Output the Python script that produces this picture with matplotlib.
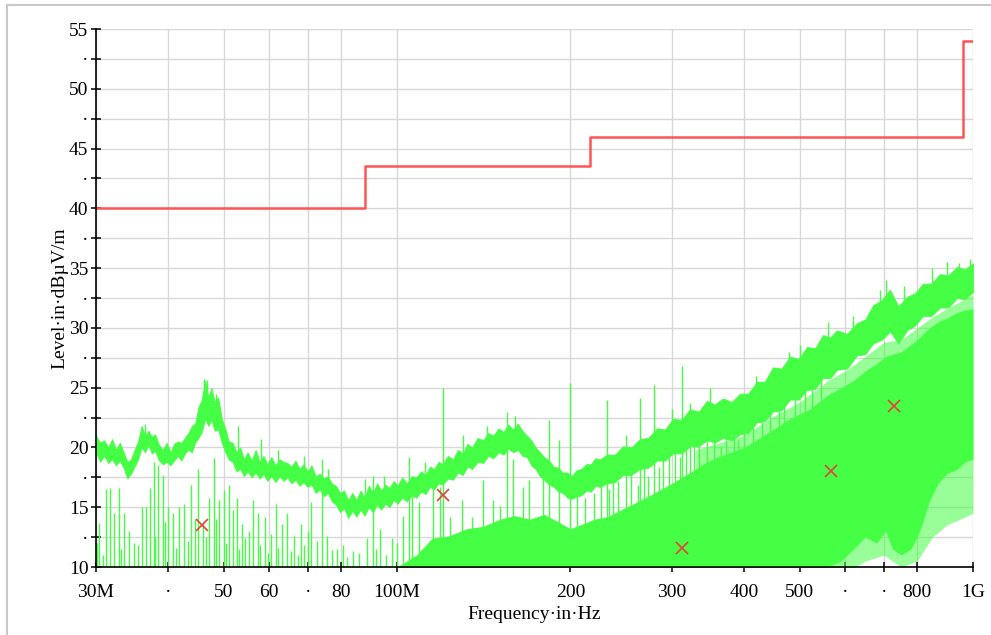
import matplotlib
matplotlib.use('Agg')
import matplotlib.pyplot as plt
from matplotlib.lines import Line2D

plt.rcParams['font.family'] = ['Liberation Serif', 'DejaVu Serif']

GREEN = '#44ff44'
RED = '#ff5555'

# limit line (steps), MHz / dBuV/m
limit_f = [30, 88, 216, 960, 1000]
limit_lvl = [40, 43.5, 46, 54, 54]

# final measurement markers
mark_f = [45.8, 120.1, 312.3, 566.9, 729.0]
mark_lvl = [13.5, 16.0, 11.6, 18.0, 23.5]

# upper (peak) trace band, lower / upper edge
pk_f = [30, 30.5, 31, 31.5, 32, 32.5, 33, 33.5, 34, 34.5, 35, 35.5, 36, 36.5, 37, 37.5,
        38, 38.6, 39.2, 39.8, 40.4, 41, 41.6, 42.2, 42.8, 43.4, 44, 44.6, 45.2, 45.8,
        46.4, 47, 47.6, 48.2, 48.9, 49.6, 50.3, 51, 51.8, 52.6, 53.4, 54.2, 55, 55.9,
        56.8, 57.7, 58.6, 59.5, 60.5, 61.5, 62.5, 63.5, 64.5, 65.5, 66.6, 67.7, 68.8,
        69.9, 71, 72.2, 73.4, 74.6, 75.8, 77, 78.3, 79.6, 80.9, 82.2, 83.6, 85, 86.4,
        87.8, 89.3, 90.8, 92.3, 93.8, 95.4, 97, 98.6, 100.2, 102, 104, 106, 108, 110,
        112, 114, 116, 118, 120, 122.5, 125, 127.5, 130, 132.5, 135, 138, 141, 144, 147,
        150, 153, 156, 159, 162, 165, 168, 171, 174, 177, 180, 183.5, 187, 190.5, 194,
        197.5, 201, 205, 209, 213, 217, 221, 225, 231.4, 239.0, 246.7, 255.0, 264.1,
        273.0, 282.7, 292.0, 301.3, 312.0, 322.5, 334.0, 345.2, 356.0, 368.0, 381.0,
        393.9, 407.0, 421.6, 435.0, 449.4, 465.0, 481.0, 498.0, 514.9, 532.0, 548.9,
        565.0, 580.5, 604.0, 628.8, 650.0, 670.6, 694.0, 717.7, 742.0, 768.1, 793.0,
        818.8, 847.0, 876.4, 906.0, 937.9, 968.0, 1000]
pk_lo = [19.6, 18.8, 19.3, 18.7, 19.0, 18.5, 18.9, 18.3, 17.4, 17.8, 18.4, 19.0, 20.0, 19.6,
         20.2, 19.5, 19.7, 18.9, 18.6, 18.8, 18.5, 18.9, 19.3, 18.9, 19.5, 19.8, 19.6, 20.4,
         20.8, 21.3, 22.4, 21.8, 22.3, 21.4, 21.5, 20.4, 19.6, 19.0, 18.8, 18.0, 18.2, 17.6,
         18.0, 17.5, 17.9, 17.4, 17.8, 17.2, 17.6, 17.1, 17.6, 17.2, 17.5, 17.0, 17.3, 16.8,
         17.1, 16.7, 16.9, 16.2, 16.5, 15.9, 16.2, 15.5, 15.2, 14.6, 14.9, 14.1, 14.7, 14.2,
         14.8, 14.3, 15.0, 14.6, 15.2, 14.8, 15.3, 15.0, 15.6, 15.3, 15.8, 15.5, 16.0, 15.8,
         16.3, 16.1, 16.7, 16.5, 17.0, 16.9, 17.4, 17.3, 17.9, 17.7, 18.4, 18.2, 18.8, 18.7,
         19.3, 19.1, 19.6, 19.4, 19.9, 19.6, 19.8, 19.3, 19.2, 18.5, 18.2, 17.6, 17.3, 16.9,
         16.7, 16.3, 16.2, 15.8, 15.7, 15.9, 16.0, 16.4, 16.3, 16.8, 16.7, 17.0, 17.1, 17.7,
         17.7, 18.2, 18.3, 18.9, 18.9, 19.5, 19.5, 20.1, 20.1, 20.6, 20.4, 20.8, 20.6, 21.1,
         21.2, 22.1, 22.2, 23.0, 23.1, 24.0, 24.0, 24.8, 24.9, 25.8, 25.8, 26.5, 26.6, 27.7,
         27.8, 28.7, 29.0, 29.7, 28.7, 29.8, 30.2, 31.0, 31.0, 31.7, 31.7, 32.5, 32.4, 33.0]
pk_hi = [21.0, 20.4, 20.6, 20.0, 20.7, 19.8, 20.4, 19.6, 18.8, 19.0, 19.8, 20.5, 21.8, 21.0,
         21.4, 20.9, 21.1, 20.2, 19.8, 20.4, 19.6, 20.3, 20.5, 20.4, 20.8, 21.2, 21.8, 22.0,
         23.4, 24.0, 25.6, 24.2, 25.0, 23.8, 24.2, 22.4, 21.6, 20.5, 20.4, 19.6, 20.0, 19.0,
         19.6, 18.9, 19.8, 18.8, 19.3, 18.6, 19.2, 18.5, 19.0, 18.8, 18.7, 18.4, 18.9, 18.2,
         18.6, 18.0, 18.5, 17.6, 17.8, 17.4, 17.6, 17.0, 16.8, 16.2, 16.4, 15.6, 16.2, 15.6,
         16.4, 15.8, 16.8, 16.2, 17.0, 16.4, 16.9, 16.6, 17.2, 16.8, 17.5, 17.0, 17.6, 17.5,
         18.0, 17.7, 18.4, 18.2, 18.8, 18.6, 19.3, 19.0, 19.8, 19.5, 20.3, 20.0, 20.8, 20.6,
         21.2, 21.0, 21.6, 21.3, 21.9, 21.5, 22.0, 21.4, 21.0, 20.6, 20.0, 19.6, 19.2, 18.9,
         18.4, 18.3, 17.9, 17.9, 17.6, 18.1, 18.2, 18.6, 18.6, 19.1, 19.0, 19.4, 19.4, 20.1,
         20.0, 20.7, 20.8, 21.6, 21.5, 22.4, 22.3, 23.2, 23.0, 23.9, 23.6, 24.1, 23.8, 24.5,
         24.5, 25.5, 25.5, 26.7, 26.6, 27.6, 27.4, 28.4, 28.3, 29.4, 29.2, 29.8, 29.5, 30.4,
         30.7, 31.9, 32.3, 33.2, 31.8, 32.6, 32.9, 33.7, 33.7, 34.5, 34.4, 35.1, 34.9, 35.4]

# spikes sticking out of the peak band: freq, bottom, top
pks_f = [36.5, 46.2, 46.8, 48.5, 53.0, 58.0, 62.0, 69.0, 76.0, 88.0, 95.0, 112.0, 130.0,
         143.0, 160.0, 250.0, 300.0, 350.0, 420.0, 480.0, 500.0, 560.0, 620.0, 690.0,
         705.0, 760.0, 850.0, 900.0, 945.0, 990.0]
pks_bot = [20.5, 23.0, 23.0, 22.5, 19.5, 18.8, 18.2, 17.8, 16.8, 15.8, 16.2, 17.5, 19.5,
           20.5, 21.0, 19.5, 21.5, 22.8, 24.5, 26.5, 27.0, 28.5, 29.5, 31.5,
           32.0, 31.5, 33.0, 34.0, 34.4, 34.8]
pks_top = [22.0, 25.7, 25.6, 24.5, 21.8, 20.7, 19.8, 19.3, 18.2, 17.4, 17.6, 18.8, 21.0,
           21.8, 22.6, 21.0, 23.2, 25.0, 26.0, 28.0, 28.6, 30.5, 31.0, 33.2,
           34.0, 33.5, 35.0, 35.5, 35.4, 35.8]

# spikes of the lower trace (rise from the floor)
low_f = [30.1, 30.4, 30.8, 31.2, 31.7, 32.2, 32.9, 33.2, 33.6, 34.2, 34.9, 35.5, 36.0, 36.7,
         37.2, 37.9, 38.0, 38.5, 39.2, 39.6, 40.0, 40.8, 41.3, 41.8, 42.7, 43.3, 43.9, 44.5,
         45.1, 46.0, 46.5, 47.1, 48.0, 48.5, 49.0, 50.0, 50.5, 51.0, 51.8, 52.8, 53.2, 53.8,
         54.5, 55.2, 56.2, 57.3, 57.8, 58.9, 59.7, 60.5, 61.7, 62.2, 63.0, 64.5, 65.4, 66.3,
         67.2, 68.1, 69.0, 70.0, 71.0, 72.5, 74.0, 75.5, 77.0, 78.6, 80.5, 82.0, 83.7, 86.0,
         88.7, 90.8, 92.0, 93.3, 95.5, 97.9, 100.0, 102.2, 104.9, 106.2, 109.3, 115.4,
         118.5, 123.5, 129.5, 134.8, 141.0, 146.5, 150.9, 159.0, 165.4, 169.7, 179.0,
         191.0, 205.0, 212.0, 220.0, 226.0, 233.0, 237.0, 242.0, 250.0, 255.0, 262.0,
         268.0, 273.0, 285.0, 290.0, 296.0, 304.0, 310.0, 318.0, 328.0, 335.0, 345.0,
         355.0, 365.0, 372.0, 385.0, 390.0, 400.0, 415.0, 430.0, 445.0, 460.0, 470.0,
         490.0, 510.0, 525.0, 545.0]
low_top = [12.0, 13.7, 11.0, 16.5, 16.6, 14.5, 16.6, 11.5, 14.5, 13.0, 12.0, 11.8, 15.0, 15.0,
           16.6, 18.8, 12.5, 18.5, 17.7, 13.8, 15.0, 14.5, 11.6, 15.0, 15.3, 12.2, 16.9, 14.0,
           18.2, 13.6, 12.5, 15.8, 19.1, 14.0, 15.6, 16.4, 12.0, 16.9, 14.8, 15.8, 11.5, 13.6,
           12.4, 13.0, 15.6, 14.5, 11.8, 14.2, 11.2, 12.8, 15.3, 11.6, 13.6, 14.5, 11.3, 12.6,
           11.0, 13.6, 11.8, 13.0, 15.4, 12.2, 19.0, 12.6, 11.4, 11.5, 11.8, 10.8, 11.3, 11.2,
           12.4, 17.6, 11.5, 13.2, 11.0, 12.4, 12.0, 14.3, 19.2, 15.9, 15.4, 17.2,
           16.7, 14.2, 15.6, 14.2, 17.3, 15.6, 15.1, 19.0, 16.7, 17.3, 18.4,
           20.6, 17.0, 15.8, 16.2, 18.0, 16.5, 18.4, 17.2, 19.5, 18.8, 16.9,
           19.6, 17.6, 18.4, 20.1, 21.0, 19.5, 19.2, 20.8, 21.6, 21.4, 20.5,
           22.0, 20.1, 21.8, 22.6, 20.6, 22.4, 23.5, 23.2, 24.0, 24.8, 23.6,
           25.6, 26.0, 25.4, 27.0]

# tall isolated spikes
tall_f = [120.1, 155.0, 183.3, 199.6, 231.5, 264.0, 279.0, 312.7, 322.5]
tall_top = [25.0, 23.0, 22.3, 25.4, 24.0, 24.1, 25.2, 26.8, 23.7]

# dense part of the lower trace: solid region
fill_f = [100, 108, 115, 123, 132, 141, 151, 160, 170, 180, 190, 200, 210, 220, 232, 245,
          260, 275, 290, 305, 320, 340, 360, 380, 400, 420, 440, 460, 480, 500, 520, 540,
          560, 590, 620, 650, 680, 705, 725, 750, 780, 800, 815, 840, 870, 900, 940, 970, 1000]
fill_hi = [10.0, 11.0, 12.4, 12.6, 13.2, 13.4, 14.0, 14.3, 14.0, 14.4, 13.8, 13.2, 13.6, 14.0,
           14.2, 14.8, 15.4, 16.0, 16.6, 17.2, 17.8, 18.6, 19.2, 19.6, 20.0, 20.6, 21.2, 21.8,
           22.4, 22.8, 23.2, 23.8, 24.4, 25.0, 25.6, 26.4, 27.0, 27.6, 27.8, 28.0, 28.6, 29.0,
           29.4, 30.0, 30.5, 30.8, 31.3, 31.5, 31.6]
fill_lo = [9.0, 9.0, 9.0, 9.0, 9.0, 9.0, 9.0, 9.0, 9.0, 9.0, 9.0, 9.0, 9.0, 9.0, 9.0, 9.0,
           9.0, 9.0, 9.0, 9.0, 9.0, 9.0, 9.0, 9.0, 9.0, 9.0, 9.0, 9.0, 9.0, 9.0, 9.0, 9.0,
           10.0, 10.5, 11.5, 12.5, 12.0, 13.0, 11.5, 11.0, 11.5, 12.5, 13.5, 15.5, 17.0,
           17.8, 18.2, 18.8, 19.0]

# hazy spike region (partially covered)
haze_f = [330, 400, 450, 500, 560, 600, 650, 700, 750, 800, 850, 900, 950, 1000]
haze_lo = [9.0, 9.0, 9.0, 9.0, 9.0, 9.5, 10.5, 11.0, 10.0, 10.5, 12.5, 13.5, 14.0, 14.5]
haze_hi = [19.8, 21.0, 22.6, 23.8, 25.6, 26.4, 27.6, 28.8, 29.0, 30.0, 30.9, 31.6, 32.2, 32.8]

xticks = [30, 40, 50, 60, 70, 80, 100, 200, 300, 400, 500, 600, 700, 800, 1000]
xlabels = ['30M', '·', '50', '60', '·', '80', '100M', '200', '300', '400', '500', '·', '·', '800', '1G']
yticks = [10, 12.5, 15, 17.5, 20, 22.5, 25, 27.5, 30, 32.5, 35, 37.5, 40, 42.5, 45, 47.5, 50, 52.5, 55]
ylabels = ['10', '·', '15', '·', '20', '·', '25', '·', '30', '·', '35', '·', '40', '·', '45', '·', '50', '·', '55']

fig = plt.figure(figsize=(9.91, 6.35), dpi=100)
ax = fig.add_axes([96 / 991, 1 - 567 / 635, 877 / 991, 538 / 635])

ax.fill_between(haze_f, haze_lo, haze_hi, color=GREEN, alpha=0.55, lw=0)
ax.fill_between(fill_f, fill_lo, fill_hi, color=GREEN, lw=0)
ax.vlines(low_f, 9, low_top, color=GREEN, lw=1.0)
ax.vlines(tall_f, 9, tall_top, color=GREEN, lw=1.0)
ax.fill_between(pk_f, pk_lo, pk_hi, color=GREEN, lw=0.6, edgecolor=GREEN)
ax.vlines(pks_f, pks_bot, pks_top, color=GREEN, lw=1.0)

ax.plot(limit_f, limit_lvl, drawstyle='steps-post', color=RED, lw=1.8)
ax.plot(mark_f, mark_lvl, 'x', color='#e8403a', ms=8, mew=1.2, ls='none')

ax.set_xscale('log')
ax.set_xlim(30, 1000)
ax.set_ylim(10, 55)
ax.set_xticks(xticks)
ax.set_xticklabels(xlabels)
ax.set_yticks(yticks)
ax.set_yticklabels(ylabels)
ax.minorticks_off()
ax.tick_params(direction='inout', length=7, width=1.1, labelsize=14)
ax.tick_params(axis='x', pad=9)
ax.tick_params(axis='y', pad=2)
ax.grid(True, color='#d8d8d8', lw=1)
ax.set_axisbelow(True)
for s in ['top', 'right']:
    ax.spines[s].set_visible(False)
for s in ['left', 'bottom']:
    ax.spines[s].set_linewidth(1.2)

ax.set_xlabel('Frequency·in·Hz', fontsize=14, labelpad=3)
ax.set_ylabel('Level·in·dBµV/m', fontsize=14, labelpad=0)

# outer frame of the screenshot
fig.add_artist(Line2D([7 / 991, 1], [1 - 5 / 635, 1 - 5 / 635], color='#c8c8c8', lw=1.5))
fig.add_artist(Line2D([7 / 991, 7 / 991], [0, 1 - 5 / 635], color='#c8c8c8', lw=1.5))

fig.savefig('out.png', dpi=100)
